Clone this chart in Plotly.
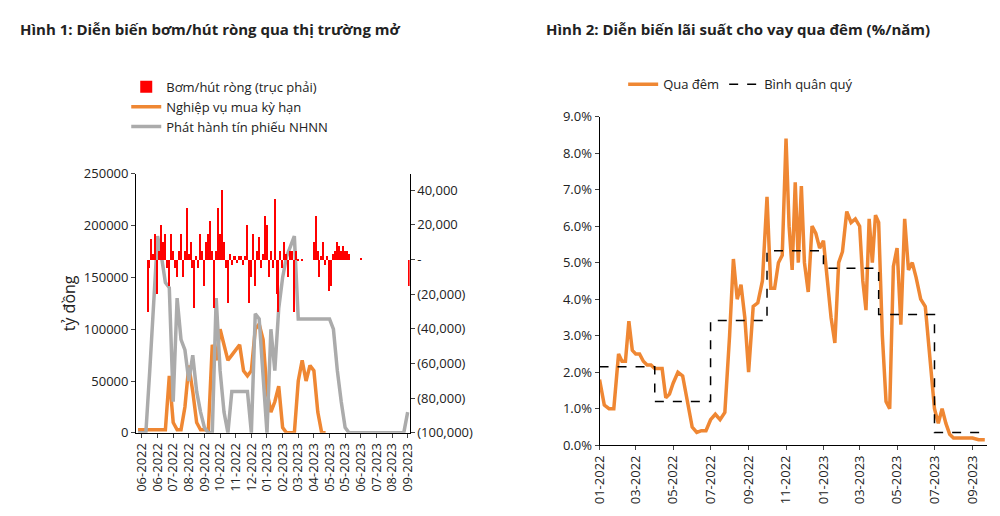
import numpy as np
import pandas as pd
import plotly.graph_objects as go

# ---------- Chart 1 data ----------
left_ticks = ["06-2022","06-2022","07-2022","08-2022","09-2022","10-2022","11-2022","12-2022",
              "01-2023","02-2023","03-2023","04-2023","05-2023","05-2023","06-2023","07-2023",
              "08-2023","09-2023"]
grey = [0,0,0,60000,120000,190000,170000,145000,140000,30000,130000,90000,80000,50000,75000,40000,
        20000,5000,0,0,130000,60000,20000,0,40000,40000,40000,40000,40000,0,115000,110000,60000,0,
        100000,60000,120000,150000,170000,180000,190000,110000,110000,110000,110000,110000,110000,
        110000,110000,110000,100000,60000,30000,5000,0,0,0,0,0,0,0,0,0,0,0,0,0,0,0,20000]
orange = [3000,3000,3000,3000,3000,3000,3000,3000,55000,10000,3000,3000,25000,65000,40000,10000,
          3000,3000,3000,85000,70000,100000,85000,70000,75000,80000,85000,60000,55000,60000,100000,
          105000,90000,40000,20000,30000,45000,5000,0,0,0,50000,70000,50000,65000,60000,20000,0,0]
red = [0,0,0,0,0,-30000,-5000,12000,3000,15000,-20000,5000,20000,10000,15000,-5000,-15000,15000,
       5000,-5000,-10000,5000,15000,-10000,5000,30000,3000,10000,-5000,-28000,2000,-5000,15000,5000,
       -15000,10000,15000,22000,5000,-28000,5000,30000,15000,40000,10000,-5000,-25000,3000,-3000,2000,
       2000,-2000,2000,2000,-3000,2000,20000,-25000,-10000,15000,-15000,5000,13000,-5000,3000,25000,
       20000,-10000,5000,-5000,35000,-20000,-30000,5000,-5000,10000,3000,-10000,5000,5000,-30000,5000,
       -1000,0,-1000,None,None,None,None,None,10000,25000,5000,-10000,2000,10000,-3000,2000,-18000,
       -15000,3000,5000,10000,8000,5000,8000,5000,5000,3000,None,None,None,None,None,1000,
       None,None,None,None,None,None,None,None,None,None,None,None,None,None,None,None,None,None,
       None,None,None,None,None,None,-15000]
right_tickvals = [40000,20000,0,-20000,-40000,-60000,-80000,-100000]
right_ticktext = ["40,000","20,000","-","(20,000)","(40,000)","(60,000)","(80,000)","(100,000)"]

# ---------- Chart 2 data (per month values) ----------
rate_months = {
 "2022-01":[1.8,1.1,1.0,1.0], "2022-02":[2.5,2.3,2.3,3.4,2.6], "2022-03":[2.5,2.5,2.3,2.2,2.2],
 "2022-04":[2.1,2.1,2.1,1.3,1.4], "2022-05":[1.7,2.0,1.9,1.2], "2022-06":[0.5,0.35,0.4,0.4],
 "2022-07":[0.7,0.85,0.7,0.9], "2022-08":[3.0,5.1,4.0,4.4,3.5], "2022-09":[2.0,3.8,3.9,4.5],
 "2022-10":[6.8,4.3,4.3,5.0,5.2], "2022-11":[8.4,6.0,4.8,7.2,5.0,7.1], "2022-12":[5.0,4.2,6.0,5.8,5.4],
 "2023-01":[5.6,4.5,3.5,2.8,5.0], "2023-02":[5.3,6.4,6.1,6.2], "2023-03":[6.0,4.5,3.7,6.2,5.0,6.3],
 "2023-04":[6.1,3.0,1.2,1.0,4.9], "2023-05":[5.4,3.3,6.2,4.8,5.0], "2023-06":[4.6,4.0,3.8,2.5],
 "2023-07":[1.0,0.6,1.0,0.6,0.3], "2023-08":[0.2,0.2,0.2,0.2], "2023-09":[0.2,0.15,0.15],
}
q_dates = ["2022-01-01","2022-04-01","2022-07-01","2022-10-01","2023-01-01","2023-04-01","2023-07-01","2023-09-30"]
q_avg = [2.15,1.2,3.42,5.33,4.85,3.58,0.35,0.35]

rate_x, rate_y = [], []
for m, vals in rate_months.items():
    start = pd.Timestamp(m + "-01")
    days = start.days_in_month
    for i, v in enumerate(vals):
        rate_x.append(start + pd.Timedelta(days=days * i / len(vals)))
        rate_y.append(v)

fig = go.Figure()
ORANGE = "#EF8733"
fig.add_trace(go.Bar(x=np.arange(len(red)) * 0.5, y=red, marker_color="#ff0000", marker_line_width=0,
                     width=0.35, name="Bơm/hút ròng (trục phải)", xaxis="x", yaxis="y2", legend="legend"))
fig.add_trace(go.Scatter(x=np.arange(len(orange)), y=orange, mode="lines", line=dict(color=ORANGE, width=3.5),
                         name="Nghiệp vụ mua kỳ hạn", xaxis="x", yaxis="y", legend="legend"))
fig.add_trace(go.Scatter(x=np.arange(len(grey)), y=grey, mode="lines", line=dict(color="#ababab", width=3.5),
                         name="Phát hành tín phiếu NHNN", xaxis="x", yaxis="y", legend="legend"))
fig.add_trace(go.Scatter(x=rate_x, y=rate_y, mode="lines", line=dict(color=ORANGE, width=3.5),
                         name="Qua đêm", xaxis="x3", yaxis="y3", legend="legend2"))
fig.add_trace(go.Scatter(x=q_dates, y=q_avg, mode="lines", line=dict(color="black", width=1.5, dash="dash", shape="hv"),
                         name="Bình quân quý", xaxis="x3", yaxis="y3", legend="legend2"))

fnt = dict(family="Open Sans", size=13, color="#222")
ticks_left_pos = [1 + i * 4 for i in range(len(left_ticks))]
fig.update_layout(
    width=1000, height=516, plot_bgcolor="white", paper_bgcolor="white", font=fnt,
    margin=dict(l=0, r=0, t=0, b=0), bargap=0,
    xaxis=dict(domain=[0.12, 0.398], range=[-0.5, 69.5], tickvals=ticks_left_pos, ticktext=left_ticks,
               tickangle=-90, showline=True, linecolor="black", ticks="outside", ticklen=4, showgrid=False,
               anchor="y", zeroline=False),
    yaxis=dict(domain=[0.165, 0.685], range=[0, 250000], tickvals=[0,50000,100000,150000,200000,250000],
               tickformat="d", showline=True, linecolor="black", ticks="outside", ticklen=4, showgrid=False,
               zeroline=False, title=dict(text="tỷ đồng", standoff=4)),
    yaxis2=dict(domain=[0.165, 0.685], overlaying="y", side="right", anchor="x", range=[-100000, 49400],
                tickvals=right_tickvals, ticktext=right_ticktext, showline=True, linecolor="black",
                ticks="outside", ticklen=4, showgrid=False, zeroline=False),
    xaxis3=dict(domain=[0.591, 0.985], anchor="y3", range=["2022-01-01", "2023-09-25"], tickformat="%m-%Y",
                dtick="M2", tick0="2022-01-01", tickangle=-90, showline=True, linecolor="black",
                ticks="outside", ticklen=4, showgrid=False),
    yaxis3=dict(domain=[0.14, 0.80], anchor="x3", range=[0, 9], dtick=1, ticksuffix="%", tickformat=".1f",
                showline=True, linecolor="black", ticks="outside", ticklen=4, showgrid=False, zeroline=False),
    legend=dict(x=0.11, y=0.89, xanchor="left", yanchor="top", bgcolor="rgba(0,0,0,0)",
                tracegroupgap=10, font=dict(size=13)),
    legend2=dict(x=0.615, y=0.895, xanchor="left", yanchor="top", orientation="h", bgcolor="rgba(0,0,0,0)",
                 font=dict(size=13)),
    annotations=[
        dict(text="<b>Hình 1: Diễn biến bơm/hút ròng qua thị trường mở</b>", x=0.0, y=1.0, xref="paper",
             yref="paper", xanchor="left", yanchor="top", showarrow=False, font=dict(size=15, color="#222")),
        dict(text="<b>Hình 2: Diễn biến lãi suất cho vay qua đêm (%/năm)</b>", x=0.535, y=1.0, xref="paper",
             yref="paper", xanchor="left", yanchor="top", showarrow=False, font=dict(size=15, color="#222")),
    ],
)
fig.write_html("out.html")
